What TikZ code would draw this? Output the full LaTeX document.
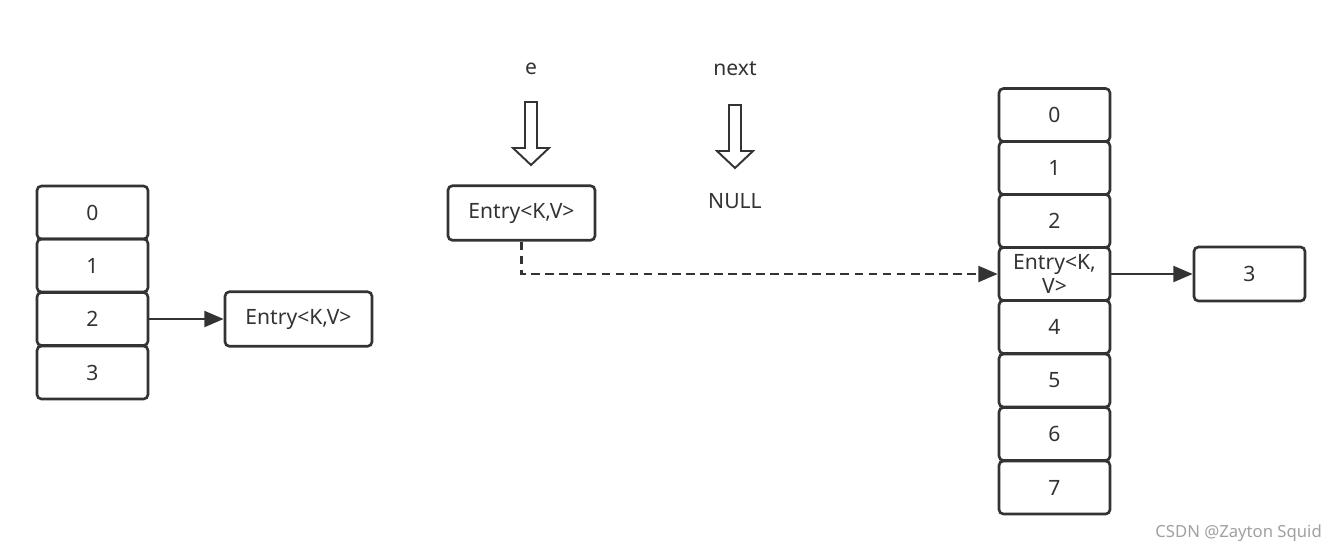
\documentclass[tikz,border=0pt]{standalone}
\usepackage{fontspec}
\setmainfont{Noto Sans}
\usepackage{xcolor}
\definecolor{hmdark}{RGB}{51,51,51}
\definecolor{hmmark}{RGB}{160,160,160}
\usetikzlibrary{arrows.meta,positioning}

\begin{document}
\begin{tikzpicture}[x=0.02cm, y=-0.02cm,
    cell/.style={rectangle, rounded corners=2.5pt, draw=hmdark, line width=1.5pt,
                 minimum width=2.22cm, minimum height=1.06cm, align=center,
                 inner sep=1pt, text=hmdark, font=\fontsize{12}{14}\selectfont},
    entrybox/.style={cell, minimum width=2.94cm, minimum height=1.09cm},
    lbl/.style={text=hmdark, font=\fontsize{12}{14}\selectfont},
    arr/.style={-{Triangle[length=11pt, width=9pt]}, line width=1.5pt, hmdark},
    dasharr/.style={arr, dash pattern=on 5pt off 3pt},
    hollow/.style={draw=hmdark, line width=1.1pt, fill=white}
  ]
    \useasboundingbox (0,0) rectangle (1342,552);

    % Old table (size 4)
    \node[cell] (o0) at (92.5, 212.5) {0};
    \node[cell] (o1) at (92.5, 265.5) {1};
    \node[cell] (o2) at (92.5, 319)   {2};
    \node[cell] (o3) at (92.5, 372.5) {3};
    \node[entrybox] (oe) at (298.5, 319) {Entry<K,V>};
    \draw[arr] (o2.east) -- (oe.west);

    % Pointers e and next
    \node[lbl] (e) at (531, 69) {e};
    \node[lbl] (nx) at (735, 69) {next};
    \draw[hollow] (525,102) -- (537,102) -- (537,148) -- (549,148) -- (531,165)
                  -- (513,148) -- (525,148) -- cycle;
    \draw[hollow] (729,105) -- (741,105) -- (741,151) -- (753,151) -- (735,168)
                  -- (717,151) -- (729,151) -- cycle;
    \node[entrybox] (te) at (521.5, 213) {Entry<K,V>};
    \node[lbl] (null) at (735, 201) {NULL};

    % New table (size 8)
    \node[cell] (n0) at (1054.5, 115)   {0};
    \node[cell] (n1) at (1054.5, 168)   {1};
    \node[cell] (n2) at (1054.5, 221)   {2};
    \node[cell] (n3) at (1054.5, 274)   {Entry<K,\\V>};
    \node[cell] (n4) at (1054.5, 327)   {4};
    \node[cell] (n5) at (1054.5, 380.5) {5};
    \node[cell] (n6) at (1054.5, 434)   {6};
    \node[cell] (n7) at (1054.5, 487.5) {7};
    \node[cell, minimum height=1.08cm] (nb) at (1249.5, 274) {3};
    \draw[arr] (n3.east) -- (nb.west);

    % Rehash move
    \draw[dasharr] (te.south) |- (n3.west);

    % Watermark
    \node[text=hmmark, font=\fontsize{9.5}{11}\selectfont, anchor=east] (wm) at (1328, 533)
      {CSDN @Zayton Squid};
  \end{tikzpicture}
\end{document}
